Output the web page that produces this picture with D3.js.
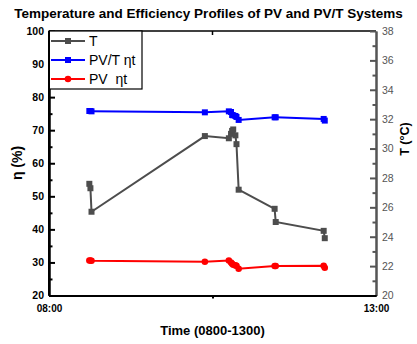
<!DOCTYPE html>
<html><head><meta charset="utf-8">
<script src="https://cdn.jsdelivr.net/npm/d3@7/dist/d3.min.js"></script>
<style>body{margin:0;background:#fff}svg{display:block;font-family:"Liberation Sans",Arial,sans-serif}</style>
</head><body>
<script>
const times = ["08:37","08:38","08:39","10:23","10:45","10:47","10:48","10:49","10:51","10:52","10:54","11:27","11:28","12:12","12:13"];
const tempT = [27.6,27.3,25.7,30.85,30.7,31.0,31.2,31.3,30.9,30.3,27.2,25.9,25.0,24.4,23.9];
const pvtEta = [75.8,75.8,75.7,75.4,75.7,75.5,74.6,74.5,74.3,74.0,73.1,73.9,73.9,73.4,72.9];
const pvEta = [30.6,30.6,30.5,30.2,30.6,30.0,29.6,29.3,29.1,29.0,28.1,28.9,28.9,29.0,28.4];
const xTickLabels = ["08:00","13:00"];
const xMinorTicks = ["10:30"];
const etaDomain = [20,100];
const tDomain = [20,38];

const W=417,H=344;
const m={l:49,r:376,t:31,b:295.5};
const parse=d3.timeParse("%H:%M");
const svg=d3.select("body").append("svg").attr("width",W).attr("height",H);

const x=d3.scaleTime().domain(xTickLabels.map(parse)).range([m.l,m.r]);
const yL=d3.scaleLinear().domain(etaDomain).range([m.b,m.t]);
const yR=d3.scaleLinear().domain(tDomain).range([m.b,m.t]);

// title
svg.append("text").attr("x",208.5).attr("y",18).attr("text-anchor","middle")
  .attr("font-size",13.5).attr("font-weight","bold").text("Temperature and Efficiency Profiles of PV and PV/T Systems");

// top border with inward minor tick
svg.append("line").attr("x1",m.l).attr("x2",m.r).attr("y1",m.t).attr("y2",m.t).attr("stroke","#000").attr("stroke-width",1.5);
svg.selectAll(".tt").data(xMinorTicks).join("line").attr("x1",d=>x(parse(d))).attr("x2",d=>x(parse(d)))
  .attr("y1",m.t).attr("y2",m.t+4).attr("stroke","#000").attr("stroke-width",1.5);

// left axis
const gL=svg.append("g").attr("transform",`translate(${m.l},0)`);
gL.call(d3.axisLeft(yL).tickValues(d3.range(20,101,10)).tickSizeInner(-6).tickSizeOuter(0).tickPadding(5));
gL.append("g").call(d3.axisLeft(yL).tickValues(d3.range(25,100,10)).tickSizeInner(-3.5).tickSizeOuter(0).tickFormat(""));
gL.selectAll("path,line").attr("stroke","#000").attr("stroke-width",2);
gL.selectAll("text").attr("font-size",10.5).attr("font-weight","bold").attr("fill","#000").attr("font-family","Liberation Sans, Arial, sans-serif");

// right axis
const gR=svg.append("g").attr("transform",`translate(${m.r},0)`);
gR.call(d3.axisRight(yR).tickValues(d3.range(20,39,2)).tickSizeInner(-6).tickSizeOuter(0).tickPadding(6));
gR.append("g").call(d3.axisRight(yR).tickValues(d3.range(21,38,2)).tickSizeInner(-3.5).tickSizeOuter(0).tickFormat(""));
gR.selectAll("path,line").attr("stroke","#555").attr("stroke-width",2);
gR.selectAll("text").attr("font-size",10.5).attr("fill","#555").attr("font-family","Liberation Sans, Arial, sans-serif");

// bottom axis
const gB=svg.append("g").attr("transform",`translate(0,${m.b})`);
gB.call(d3.axisBottom(x).tickValues(xTickLabels.map(parse)).tickSize(0).tickPadding(9).tickFormat(d3.timeFormat("%H:%M")));
gB.append("g").call(d3.axisBottom(x).tickValues(xMinorTicks.map(parse)).tickSizeInner(3).tickSizeOuter(0).tickFormat(""));
gB.selectAll("path,line").attr("stroke","#000").attr("stroke-width",2);
gB.selectAll("text").attr("font-size",10).attr("font-weight","bold").attr("fill","#000").attr("font-family","Liberation Sans, Arial, sans-serif");

// axis titles
svg.append("text").attr("x",W/2+4).attr("y",335).attr("text-anchor","middle").attr("font-size",13).attr("font-weight","bold").text("Time (0800-1300)");
svg.append("text").attr("transform","translate(22,163) rotate(-90)").attr("text-anchor","middle").attr("font-size",14).attr("font-weight","bold").text("η (%)");
svg.append("text").attr("transform","translate(409,139) rotate(-90)").attr("text-anchor","middle").attr("font-size",12.5).attr("font-weight","bold").text("T (°C)");

// series
const series=[
  {name:"T",vals:tempT,y:yR,color:"#4d4d4d",shape:"square"},
  {name:"PV/T ηt",vals:pvtEta,y:yL,color:"#0000ff",shape:"square"},
  {name:"PV  ηt",vals:pvEta,y:yL,color:"#ff0000",shape:"circle"}
];
series.forEach(s=>{
  const pts=times.map((t,i)=>[x(parse(t)),s.y(s.vals[i])]);
  svg.append("path").attr("d",d3.line()(pts)).attr("fill","none").attr("stroke",s.color).attr("stroke-width",2);
  const sym=d3.symbol().type(s.shape==="square"?d3.symbolSquare:d3.symbolCircle).size(s.shape==="square"?36:34);
  svg.selectAll(null).data(pts).join("path").attr("d",sym).attr("transform",d=>`translate(${d[0]},${d[1]})`).attr("fill",s.color);
});

// legend
const lg=svg.append("g");
lg.append("rect").attr("x",m.l).attr("y",m.t).attr("width",93).attr("height",58).attr("fill","#fff").attr("stroke","#000").attr("stroke-width",1.2);
series.forEach((s,i)=>{
  const yy=41+i*19;
  lg.append("line").attr("x1",51).attr("x2",85).attr("y1",yy).attr("y2",yy).attr("stroke",s.color).attr("stroke-width",2);
  const sym=d3.symbol().type(s.shape==="square"?d3.symbolSquare:d3.symbolCircle).size(s.shape==="square"?36:34);
  lg.append("path").attr("d",sym).attr("transform",`translate(68,${yy})`).attr("fill",s.color);
  lg.append("text").attr("x",89).attr("y",yy+5).attr("font-size",14).attr("xml:space","preserve").style("white-space","pre").text(s.name);
});
// redraw left axis line on top of legend box
svg.append("line").attr("x1",m.l).attr("x2",m.l).attr("y1",m.t).attr("y2",m.b).attr("stroke","#000").attr("stroke-width",2);
</script>
</body></html>
